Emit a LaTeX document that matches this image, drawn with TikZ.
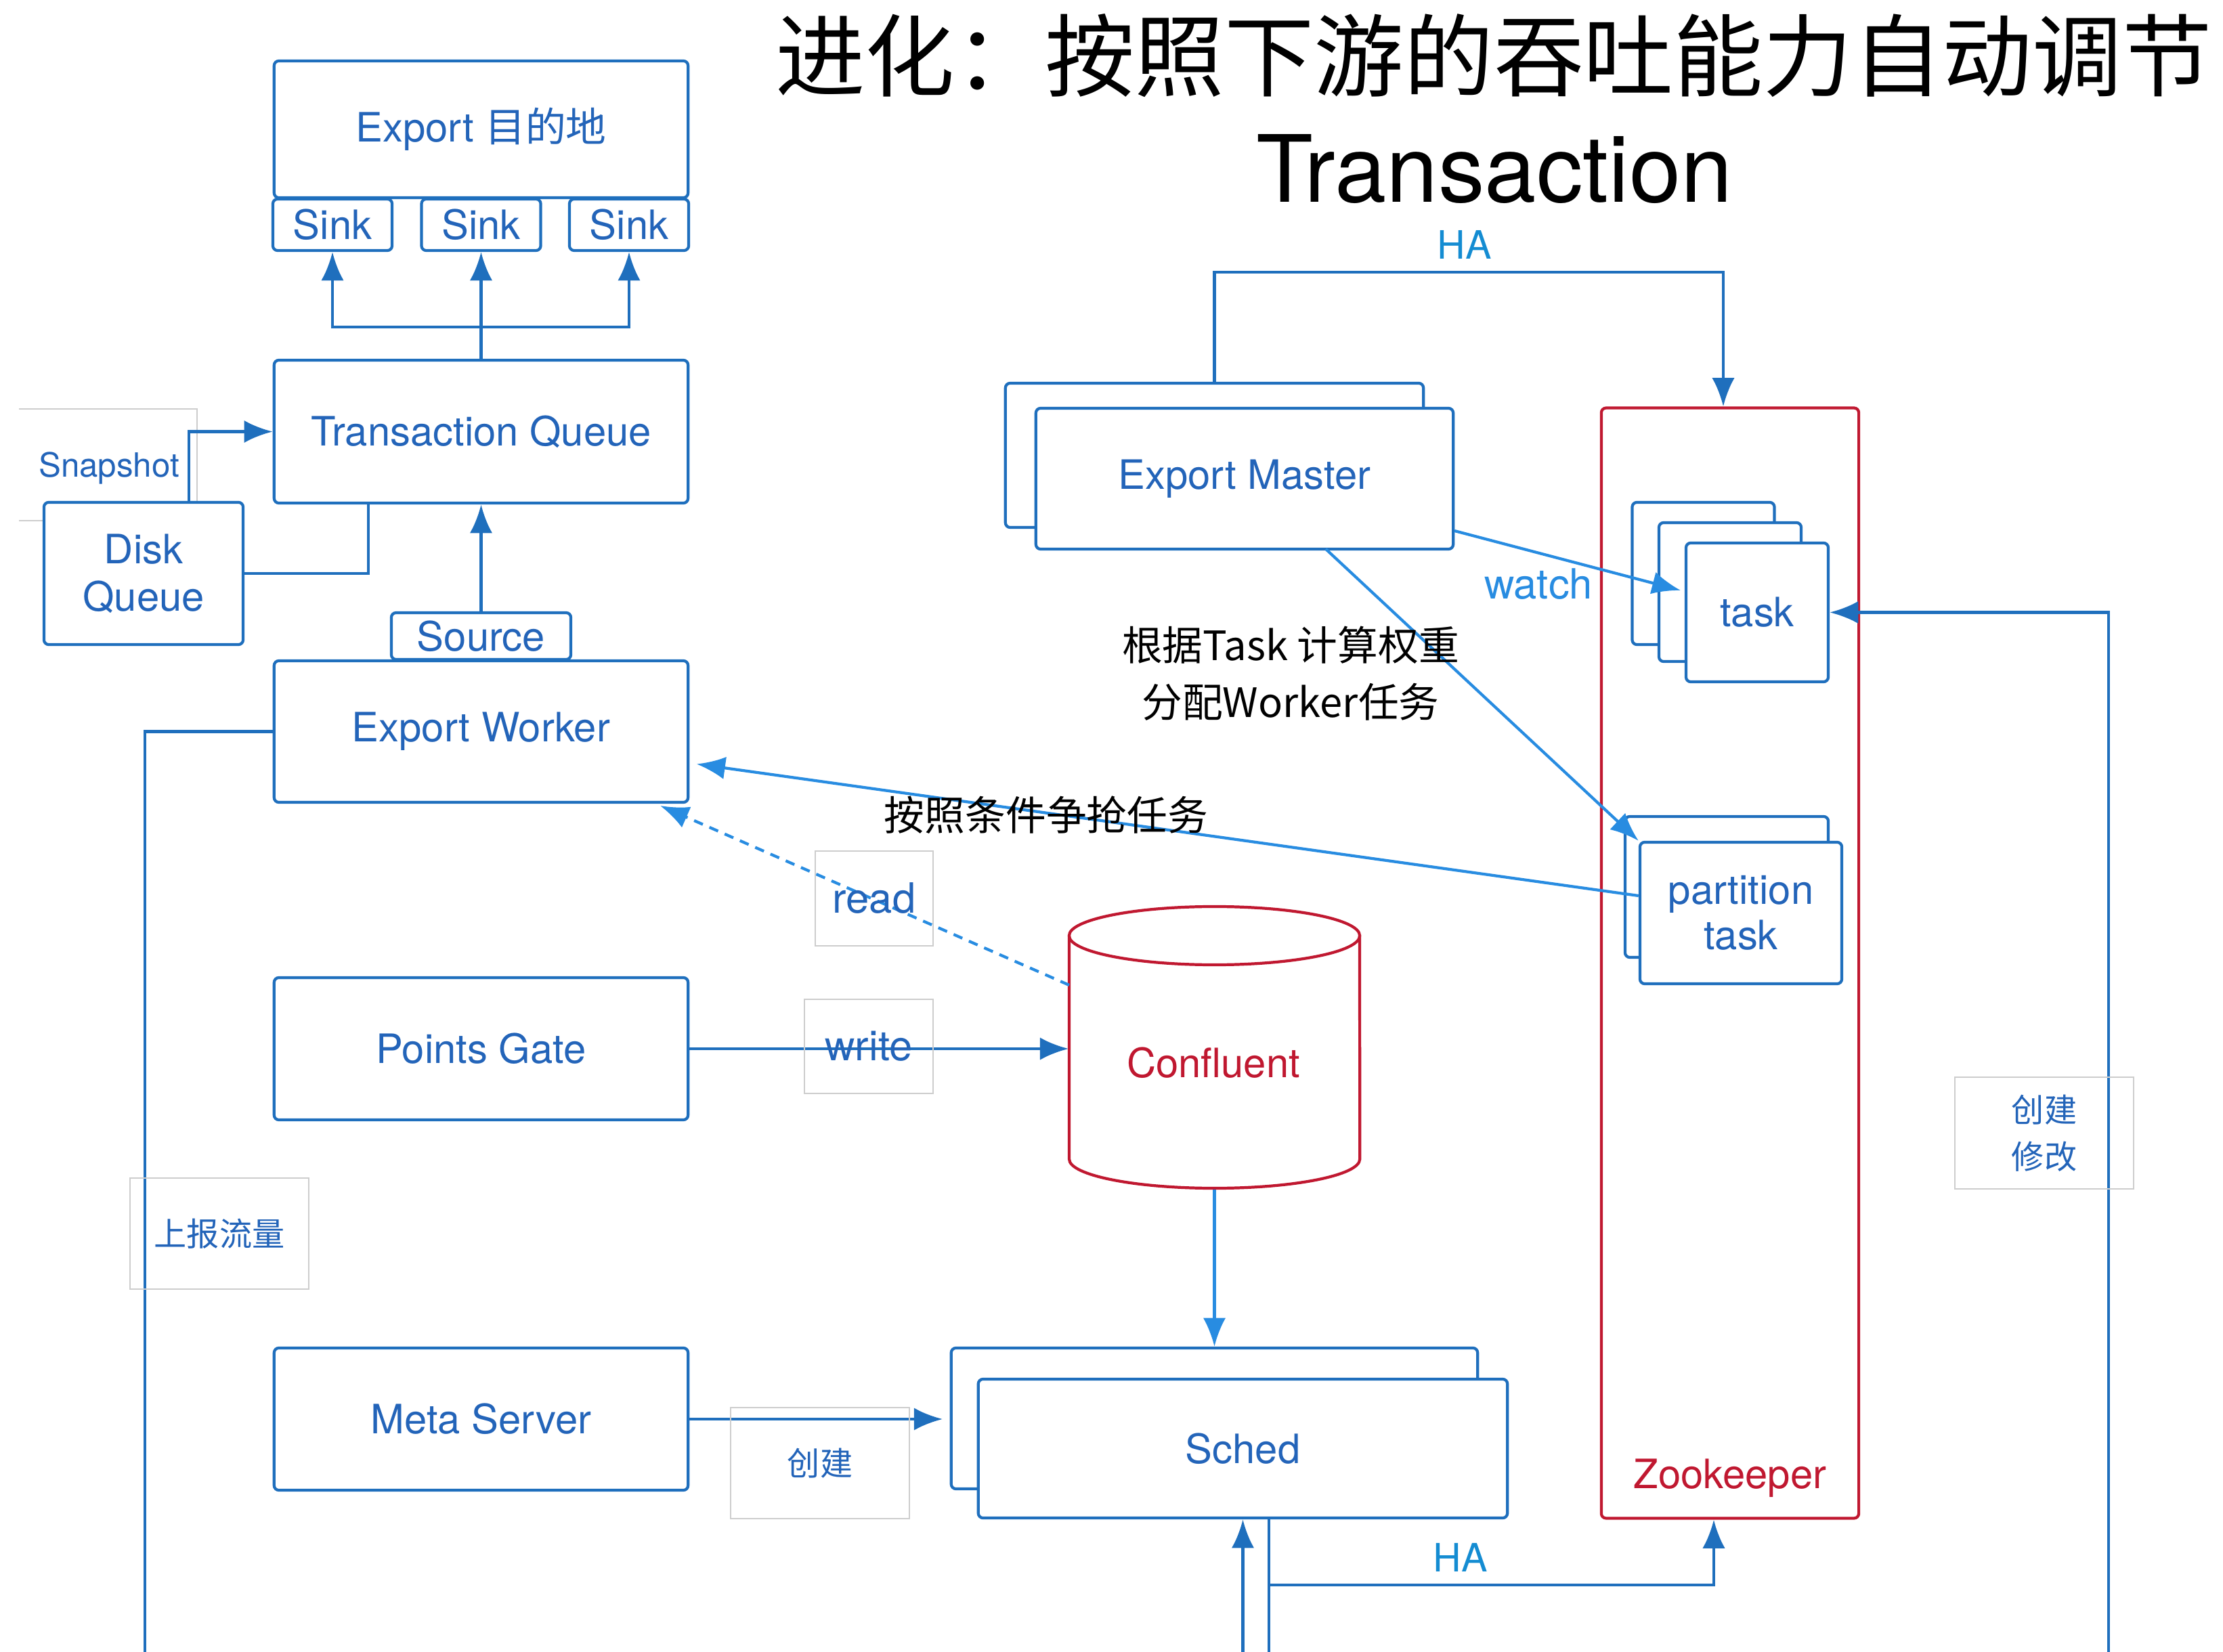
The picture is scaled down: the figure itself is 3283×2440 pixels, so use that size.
\documentclass[tikz,border=0pt]{standalone}
\usepackage{fontspec}
\setmainfont{TeX Gyre Heros}
\newfontfamily\cjk{Noto Sans CJK SC}
\usetikzlibrary{arrows.meta}
\definecolor{bx}{RGB}{31,111,189}
\definecolor{bxt}{RGB}{35,100,185}
\definecolor{lb}{RGB}{40,140,225}
\definecolor{zr}{RGB}{192,24,48}
\definecolor{hab}{RGB}{20,140,210}
\definecolor{lgray}{RGB}{205,205,205}
\newcommand{\myfs}[2]{\fontsize{#1pt}{#2pt}\selectfont}
\tikzset{
  box/.style={draw=bx, line width=1.2pt, rounded corners=2pt, fill=white, text=bxt,
    font=\myfs{17}{20}, inner sep=0pt, align=center},
  ln/.style={draw=bx, line width=1.3pt},
  arr/.style={ln, -{Latex[length=12pt,width=9.5pt]}},
  arrL/.style={draw=lb, line width=1.2pt, -{Latex[length=12pt,width=9.5pt]}},
  gl/.style={draw=lgray, line width=0.6pt, inner sep=0pt, align=center, text=bxt},
  lbl/.style={text=bxt, inner sep=0pt, align=center},
  blk/.style={text=black, inner sep=0pt, align=center, font=\cjk\myfs{17}{24}},
}
\begin{document}
\begin{tikzpicture}[x=0.01cm,y=-0.01cm]
\useasboundingbox (0,0) rectangle (3283,2440);

% title
\node[font=\cjk\myfs{37.7}{40}, anchor=base, inner sep=0pt] (title1) at (2206,133) {进化：按照下游的吞吐能力自动调节};
\node[font=\myfs{39}{44}, anchor=base, inner sep=0pt] (title2) at (2207,299) {Transaction};

% snapshot label (partial frame)
\draw[lgray, line width=0.6pt] (28,604) -- (291,604) -- (291,769) -- (28,769);
\node[lbl, font=\myfs{14}{16}] (snapl) at (161,691) {Snapshot};

% left column boxes
\node[box, minimum width=6.11cm, minimum height=2.02cm] (dest) at (710.5,191) {Export {\cjk 目的地}};
\node[box, minimum width=1.76cm, minimum height=0.76cm] (s1) at (491,332) {Sink};
\node[box, minimum width=1.76cm, minimum height=0.76cm] (s2) at (710.5,332) {Sink};
\node[box, minimum width=1.76cm, minimum height=0.76cm] (s3) at (929,332) {Sink};
\node[box, minimum width=6.11cm, minimum height=2.11cm] (tq) at (710.5,637.5) {Transaction Queue};
\node[box, minimum width=2.94cm, minimum height=2.10cm] (dq) at (212,847) {Disk\\Queue};
\node[box, minimum width=2.65cm, minimum height=0.69cm] (src) at (710.5,939.5) {Source};
\node[box, minimum width=6.11cm, minimum height=2.09cm] (ew) at (710.5,1080.5) {Export Worker};
\node[box, minimum width=6.11cm, minimum height=2.10cm] (pg) at (710.5,1549) {Points Gate};
\node[box, minimum width=6.11cm, minimum height=2.10cm] (ms) at (710.5,2096) {Meta Server};

% export master
\node[box, minimum width=6.17cm, minimum height=2.13cm] (emb) at (1793.5,672.5) {};
\node[box, minimum width=6.16cm, minimum height=2.08cm] (emf) at (1838,707) {Export Master};

% zookeeper
\node[box, draw=zr, fill=none, minimum width=3.80cm, minimum height=16.39cm] (zk) at (2555,1422.5) {};
\node[lbl, text=zr, font=\myfs{17}{20}] (zkt) at (2555,2183) {Zookeeper};
\node[box, minimum width=2.10cm, minimum height=2.10cm] (t1) at (2515.5,847) {};
\node[box, minimum width=2.10cm, minimum height=2.05cm] (t2) at (2555,874.5) {};
\node[box, minimum width=2.10cm, minimum height=2.05cm] (t3) at (2595,904.5) {task};
\node[box, minimum width=3.00cm, minimum height=2.08cm] (ptb) at (2550,1310) {};
\node[box, minimum width=2.98cm, minimum height=2.09cm, font=\myfs{17}{19}] (ptf) at (2571,1348.5) {partition\\task};

% sched
\node[box, minimum width=7.77cm, minimum height=2.08cm] (sb) at (1793.5,2095) {};
\node[box, minimum width=7.81cm, minimum height=2.05cm] (sf) at (1835.5,2139.5) {Sched};

% confluent cylinder
\node[minimum width=4.29cm, minimum height=4.17cm, inner sep=0pt] (conf) at (1793.5,1547.5) {};
\draw[zr, line width=1.2pt] (1579,1382) -- (1579,1712)
  arc[start angle=180, end angle=360, x radius=2.145cm, y radius=0.43cm] -- (2008,1382);
\draw[zr, line width=1.2pt] (1793.5,1382) ellipse [x radius=2.145cm, y radius=0.43cm];
\node[lbl, text=zr, font=\myfs{17}{20}] (conft) at (1792,1570) {Confluent};

% coordinates
\coordinate (split) at (710.5,483);
\coordinate (snapx) at (279,0);
\coordinate (tqx) at (544,0);
\coordinate (lbot) at (214,2440);
\coordinate (bot) at (0,2440);
\coordinate (rdS) at (1579,1455);
\coordinate (rdE) at (975,1190);
\coordinate (hax) at (1874,0);
\coordinate (haY) at (0,2341);
\coordinate (zkx) at (2531,0);
\coordinate (haT) at (2545,402);
\coordinate (wS) at (2148,784);
\coordinate (wE) at (2482,872);
\coordinate (cS) at (1958,811);
\coordinate (cy) at (0,1323);
\coordinate (ewy) at (0,1127);
\coordinate (rx) at (3114,2440);

% connectors left
\draw[ln] (tq.north) -- (split);
\draw[arr] (split) -| (s1.south);
\draw[arr] (split) -- (s2.south);
\draw[arr] (split) -| (s3.south);
\draw[arr] (dq.north -| snapx) |- (tq.west);
\draw[ln] (tq.south -| tqx) |- (dq.east);
\draw[arr] (src.north) -- (tq.south);
\draw[ln] (ew.west) -| (lbot);
\draw[arrL, dash pattern=on 4pt off 3pt] (rdS) -- (rdE);
\draw[arr] (pg.east) -- (conf.west |- pg.east);
\draw[arr, shorten >=3pt] (ms.east) -- (sb.west |- ms.east);
\draw[arrL] (conf.south) -- (sb.north);

% bottom
\draw[arr] (sf.south |- bot) -- (sf.south);
\draw[ln] (sf.south -| hax) -- (hax |- bot);
\draw[arr] (hax |- haY) -| (zkx |- zk.south);

% top HA
\draw[arr] (emb.north) |- (haT) -- (haT |- zk.north);

% right side
\draw[arrL] (wS) -- (wE);
\draw[arrL] (cS) -- (ptf.north west);
\draw[arrL, shorten >=3pt] (ptf.west |- cy) -- (ew.east |- ewy);
\draw[arr] (rx) |- (t3.east);

% labels
\node[gl, minimum width=1.74cm, minimum height=1.40cm, font=\myfs{17.5}{20}] (readl) at (1291,1327) {read};
\node[gl, minimum width=1.90cm, minimum height=1.39cm, font=\myfs{17.5}{20}] (writel) at (1283,1545.5) {write};
\node[gl, minimum width=2.64cm, minimum height=1.64cm, font=\cjk\myfs{13.7}{19.6}] (repl) at (324,1822) {上报流量};
\node[gl, minimum width=2.64cm, minimum height=1.64cm, font=\cjk\myfs{13.7}{19.6}] (crl) at (1211,2161) {创建};
\node[gl, minimum width=2.64cm, minimum height=1.65cm, font=\cjk\myfs{13.7}{19.6}] (cml) at (3019,1673.5) {创建\\修改};
\node[lbl, text=hab, font=\myfs{16.4}{18}] (hatl) at (2163,361) {HA};
\node[lbl, text=hab, font=\myfs{16.4}{18}] (habl) at (2157,2300) {HA};
\node[lbl, text=lb, font=\myfs{17.5}{20}] (watchl) at (2272,863) {watch};
\node[blk] (calcl) at (1906,995) {根据Task 计算权重\\分配Worker任务};
\node[blk] (contl) at (1545,1204) {按照条件争抢任务};
\end{tikzpicture}
\end{document}
